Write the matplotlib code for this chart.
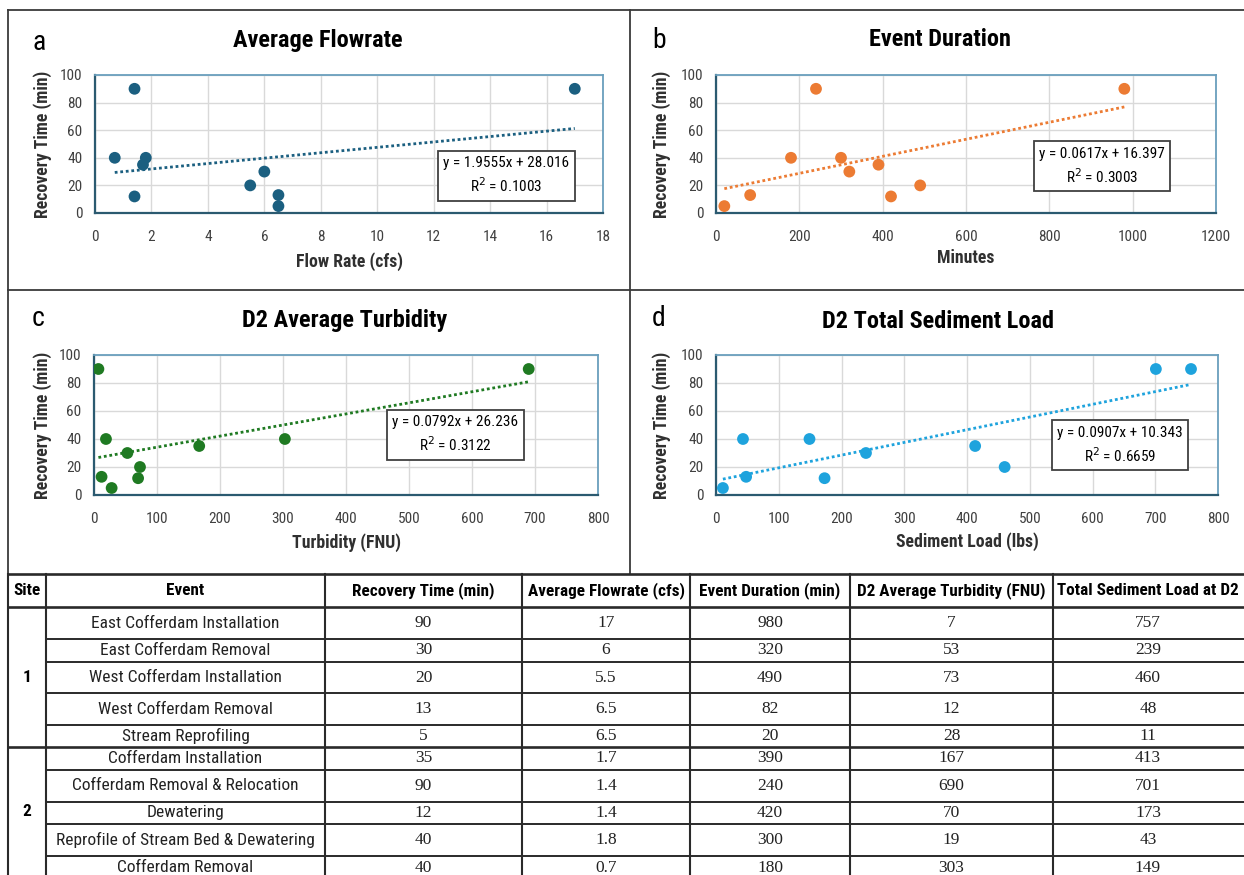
import matplotlib
matplotlib.use("Agg")
import matplotlib.pyplot as plt
from matplotlib import font_manager


def pick_font(names):
    # first installed family from the list
    for n in names:
        try:
            font_manager.findfont(n, fallback_to_default=False)
            return n
        except Exception:
            pass
    return "DejaVu Sans"


SANS = pick_font(["Liberation Sans Narrow", "Roboto Condensed", "Open Sans", "Liberation Sans"])
SERIF = pick_font(["Liberation Serif", "DejaVu Serif"])

# Data per event
sites = ["1", "2"]
events = ["East Cofferdam Installation", "East Cofferdam Removal", "West Cofferdam Installation",
          "West Cofferdam Removal", "Stream Reprofiling", "Cofferdam Installation",
          "Cofferdam Removal & Relocation", "Dewatering", "Reprofile of Stream Bed & Dewatering",
          "Cofferdam Removal"]
recovery = [90, 30, 20, 13, 5, 35, 90, 12, 40, 40]
flowrate = [17, 6, 5.5, 6.5, 6.5, 1.7, 1.4, 1.4, 1.8, 0.7]
duration = [980, 320, 490, 82, 20, 390, 240, 420, 300, 180]
turbidity = [7, 53, 73, 12, 28, 167, 690, 70, 19, 303]
sediment = [757, 239, 460, 48, 11, 413, 701, 173, 43, 149]

# linear fits (slope, intercept, R^2)
fit_flow = (1.9555, 28.016, 0.1003)
fit_dur = (0.0617, 16.397, 0.3003)
fit_turb = (0.0792, 26.236, 0.3122)
fit_sed = (0.0907, 10.343, 0.6659)

headers = ["Site", "Event", "Recovery Time (min)", "Average Flowrate (cfs)", "Event Duration (min)",
           "D2 Average Turbidity (FNU)", "Total Sediment Load at D2"]

W, H = 1244, 875
fig = plt.figure(figsize=(W / 100, H / 100), dpi=100)
fig.patch.set_facecolor("white")

# pixel overlay for frames, titles and the table
bg = fig.add_axes([0, 0, 1, 1])
bg.set_xlim(0, W)
bg.set_ylim(H, 0)
bg.axis("off")

frame = "#3a3a3a"
bg.plot([8, W], [10, 10], color=frame, lw=1.3)
bg.plot([8, 8], [10, 574], color=frame, lw=1.3)
bg.plot([630, 630], [10, 574], color=frame, lw=1.3)
bg.plot([8, W], [290, 290], color=frame, lw=1.3)


def px_axes(x0, y0, x1, y1):
    return fig.add_axes([x0 / W, 1 - y1 / H, (x1 - x0) / W, (y1 - y0) / H])


def panel(box, x, fit, color, xmax, xstep, title, xlabel, letter, letter_xy, title_xy,
          ylab_x, xlab_y, eq_xy):
    x0, y0, x1, y1 = box
    ax = px_axes(x0, y0, x1, y1)
    ax.set_xlim(0, xmax)
    ax.set_ylim(0, 100)
    ax.set_xticks(range(0, xmax + 1, xstep))
    ax.set_yticks(range(0, 101, 20))
    ax.grid(True, color="#d9d9d9", lw=1)
    ax.set_axisbelow(True)
    ax.tick_params(axis="x", length=0, labelsize=11, labelcolor="#404040", pad=12)
    ax.tick_params(axis="y", length=0, labelsize=11, labelcolor="#404040", pad=9)
    for lab in ax.get_xticklabels() + ax.get_yticklabels():
        lab.set_fontfamily(SANS)
    for s in ["top", "right"]:
        ax.spines[s].set_color("#6a9fbd")
        ax.spines[s].set_linewidth(1.3)
    for s in ["left", "bottom"]:
        ax.spines[s].set_color("#2b5a70")
        ax.spines[s].set_linewidth(1.6)

    m, b, r2 = fit
    xs = [min(x), max(x)]
    ax.plot(xs, [m * v + b for v in xs], ls=(0, (1, 1)), lw=2, color=color, zorder=2)
    ax.scatter(x, recovery, s=72, color=color, zorder=3, edgecolors="none")

    ax.text(eq_xy[0], eq_xy[1], "y = %gx + %g\nR$^2$ = %.4f" % (m, b, r2), transform=ax.transAxes,
            ha="center", va="center", multialignment="center", fontsize=11, family=SANS,
            linespacing=1.4, bbox=dict(boxstyle="square,pad=0.35", fc="white", ec="#404040", lw=1.3))

    bg.text(letter_xy[0], letter_xy[1], letter, fontsize=20, family=SANS, ha="left", va="center")
    bg.text(title_xy[0], title_xy[1], title, fontsize=17.5, family=SANS, weight="bold",
            ha="center", va="center")
    bg.text(ylab_x, (y0 + y1) / 2, "Recovery Time (min)", rotation=90, fontsize=12.8, family=SANS,
            weight="bold", color="#303030", ha="center", va="center")
    bg.text((x0 + x1) / 2, xlab_y, xlabel, fontsize=12.8, family=SANS, weight="bold",
            color="#303030", ha="center", va="center")
    return ax


panel((95, 75, 603, 213), flowrate, fit_flow, "#1b5f80", 18, 2, "Average Flowrate",
      "Flow Rate (cfs)", "a", (32, 42), (318, 41), 43, 262, (0.81, 0.27))
panel((716, 75, 1216, 213), duration, fit_dur, "#ec7b33", 1200, 200, "Event Duration",
      "Minutes", "b", (652, 40), (940, 39), 662, 258, (0.772, 0.34))
panel((94, 355, 598, 495), turbidity, fit_turb, "#1f7a22", 800, 100, "D2 Average Turbidity",
      "Turbidity (FNU)", "c", (32, 318), (345, 321), 43, 543, (0.717, 0.43))
panel((716, 355, 1218, 495), sediment, fit_sed, "#1ea3dd", 800, 100, "D2 Total Sediment Load",
      "Sediment Load (lbs)", "d", (652, 318), (938, 321), 662, 542, (0.805, 0.357))

# table
tline = "#2a2a2a"
col_edges = [8, 46, 325, 522, 690, 850, 1053]
row_edges = [574, 607, 639, 662, 693, 725, 747, 770, 802, 824, 856, 880]
for cx in col_edges:
    bg.plot([cx, cx], [574, H], color=tline, lw=1.5)
for i, ry in enumerate(row_edges[:-1]):
    full = i in (0, 1, 6)
    bg.plot([8 if full else 46, W], [ry, ry], color=tline, lw=1.9 if full else 1.4)

hdr_y = (574 + 607) / 2
for i, h in enumerate(headers):
    if i < 6:
        bg.text((col_edges[i] + col_edges[i + 1]) / 2, hdr_y, h, fontsize=12.3, family=SANS,
                weight="bold", ha="center", va="center")
    else:
        bg.text(1057, hdr_y, h, fontsize=12.3, family=SANS, weight="bold", ha="left", va="center")

bg.text(27, (607 + 747) / 2, sites[0], fontsize=12.5, family=SANS, weight="bold",
        ha="center", va="center")
bg.text(27, (747 + H) / 2, sites[1], fontsize=12.5, family=SANS, weight="bold",
        ha="center", va="center")

centers = [(col_edges[k] + col_edges[k + 1]) / 2 for k in range(2, 6)] + [1148]
for r in range(len(events)):
    ty = (row_edges[r + 1] + row_edges[r + 2]) / 2 if r < 9 else 868
    bg.text((46 + 325) / 2, ty, events[r], fontsize=12.5, family=SANS, color="#222222",
            ha="center", va="center")
    vals = [recovery[r], flowrate[r], duration[r], turbidity[r], sediment[r]]
    for cx, v in zip(centers, vals):
        bg.text(cx, ty, "%g" % v, fontsize=12.5, family=SERIF, color="#222222",
                ha="center", va="center")

fig.savefig("out.png", dpi=100)
